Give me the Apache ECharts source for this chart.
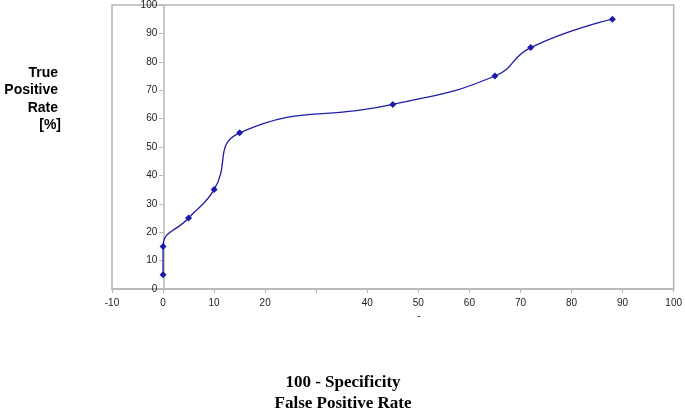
<!DOCTYPE html>
<html>
<head>
<meta charset="utf-8">
<script src="https://cdn.jsdelivr.net/npm/echarts@6/dist/echarts.min.js"></script>
<style>
  html, body { margin: 0; padding: 0; background: #fff; }
  #main { width: 685px; height: 413px; }
</style>
</head>
<body>
<div id="main"></div>
<script>
// ROC points: false positive rate (100 - specificity) vs true positive rate
var fpr = [0, 0, 5, 10, 15, 45, 65, 72, 88];
var tpr = [5, 15, 25, 35, 55, 65, 75, 85, 95];
var hiddenXLabels = [30];
var yTitleLines = ['True', 'Positive', 'Rate', '[%]'];
var xTitleLines = ['100 - Specificity', 'False Positive Rate'];

var points = [];
for (var i = 0; i < fpr.length; i++) {
    points.push([fpr[i], tpr[i]]);
}

var axisGray = '#b4b8b8';
var lineBlue = '#1c1ca8';

var graphics = [];
for (var i = 0; i < yTitleLines.length; i++) {
    graphics.push({
        type: 'text',
        x: i == 3 ? 61 : 58,
        y: 73 + i * 17.5,
        style: {
            text: yTitleLines[i],
            font: 'bold 14px "Liberation Sans"',
            fill: '#000',
            align: 'right',
            verticalAlign: 'middle'
        }
    });
}
for (var i = 0; i < xTitleLines.length; i++) {
    graphics.push({
        type: 'text',
        x: 343,
        y: 383 + i * 21,
        style: {
            text: xTitleLines[i],
            font: 'bold 17px "Liberation Serif"',
            fill: '#000',
            align: 'center',
            verticalAlign: 'middle'
        }
    });
}
graphics.push({
    type: 'text', x: 419, y: 316,
    style: { text: '-', font: '10px "Liberation Sans"', fill: '#222', align: 'center', verticalAlign: 'middle' }
});

var myChart = echarts.init(document.getElementById('main'));
var option = {
    animation: false,
    grid: {
        left: 112,
        right: 9,
        top: 5,
        bottom: 124,
        show: true,
        borderColor: axisGray,
        borderWidth: 1.5
    },
    xAxis: {
        type: 'value',
        min: -10,
        max: 100,
        interval: 10,
        axisLine: { show: true, onZero: false, lineStyle: { color: axisGray, width: 1.5 } },
        axisTick: { show: true, length: 4, lineStyle: { color: axisGray } },
        axisLabel: {
            color: '#222',
            fontFamily: 'Liberation Sans',
            fontSize: 10,
            margin: 9,
            formatter: function (v) {
                return hiddenXLabels.indexOf(v) >= 0 ? '' : v;
            }
        },
        splitLine: { show: false }
    },
    yAxis: {
        type: 'value',
        min: 0,
        max: 100,
        interval: 10,
        offset: -51.3,
        axisLine: { show: true, onZero: false, lineStyle: { color: axisGray, width: 1.5 } },
        axisTick: { show: true, length: 4, lineStyle: { color: axisGray } },
        axisLabel: {
            color: '#222',
            fontFamily: 'Liberation Sans',
            fontSize: 10,
            margin: 6
        },
        splitLine: { show: false }
    },
    graphic: graphics,
    series: [
        {
            type: 'line',
            data: points,
            smooth: 0.5,
            symbol: 'diamond',
            symbolSize: 7,
            lineStyle: { color: lineBlue, width: 1.3 },
            itemStyle: { color: lineBlue }
        }
    ]
};
myChart.setOption(option);
</script>
</body>
</html>
